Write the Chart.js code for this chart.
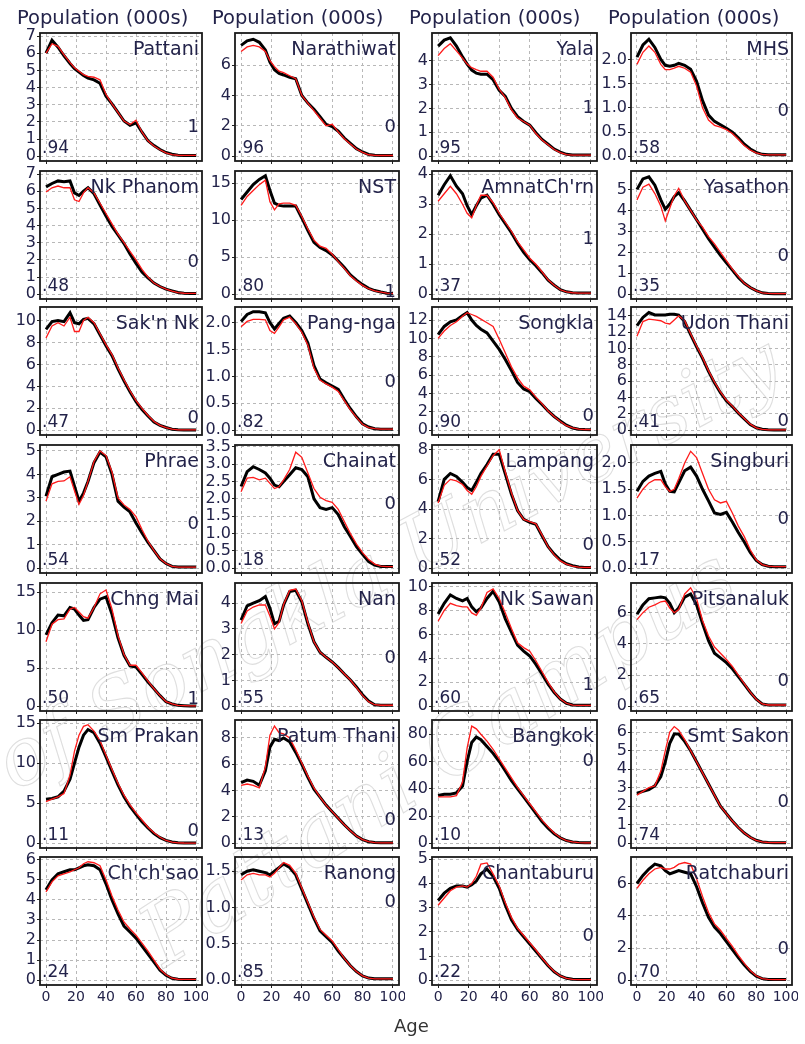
<!DOCTYPE html>
<html lang="en">
<head>
  <meta charset="UTF-8">
  <title>Population by age, 28 provinces</title>
  <script src="https://cdn.jsdelivr.net/npm/chart.js"></script>
  <style>
    body { margin: 0; background: #fff; }
    #page { position: relative; width: 805px; height: 1044px; overflow: hidden; font-family: "DejaVu Sans", sans-serif; }
    canvas { position: absolute; z-index: 1; }
    .lbl { position: absolute; z-index: 2; color: #23234a; white-space: nowrap; line-height: 1; }
    .wm { position: absolute; z-index: 0; font: italic 80px "DejaVu Serif", serif; color: rgba(255,255,255,0);
          -webkit-text-stroke: 1.1px rgba(160,160,160,0.35); transform-origin: left bottom; white-space: nowrap; }
  </style>
</head>
<body>
<div id="page">
  <div class="wm" style="left:-230px; top:850px; transform: rotate(-28deg);">Prince of Songkla University</div>
  <div class="wm" style="left:175px; top:885px; font-size:86px; transform: rotate(-33deg);">Pattani Campus</div>
</div>

<script>
  // ages shared by every panel
  const AGES = [0,4,8,12,16,19,22,25,28,32,36,40,44,48,52,56,60,64,68,72,76,80,84,88,92,96,100];
  const X_TICKS = [0, 20, 40, 60, 80, 100];

  const NAMES = ["Pattani","Narathiwat","Yala","MHS",
                 "Nk Phanom","NST","AmnatCh'rn","Yasathon",
                 "Sak'n Nk","Pang-nga","Songkla","Udon Thani",
                 "Phrae","Chainat","Lampang","Singburi",
                 "Chng Mai","Nan","Nk Sawan","Pitsanaluk",
                 "Sm Prakan","Patum Thani","Bangkok","Smt Sakon",
                 "Ch'ch'sao","Ranong","Chantaburu","Ratchaburi"];
  const CODES = [".94",".96",".95",".58", ".48",".80",".37",".35", ".47",".82",".90",".41",
                 ".54",".18",".52",".17", ".50",".55",".60",".65", ".11",".13",".10",".74",
                 ".24",".85",".22",".70"];
  const RIGHT_NUM = ["1","0","1","0", "0","1","1","0", "0","0","0","0", "0","0","0","0",
                     "1","0","1","0", "0","0","0","0", "","0","0","0"];
  const RIGHT_POS = [0.73,0.73,0.58,0.60, 0.70,0.94,0.52,0.66, 0.86,0.58,0.84,0.88,
                     0.61,0.45,0.77,0.57, 0.90,0.58,0.79,0.76, 0.86,0.77,0.31,0.63,
                     0.5,0.34,0.61,0.71];

  // top of data range per panel (axis runs -4% .. +4%)
  const Y_TOP = [6.9,7.8,4.95,2.45, 6.9,16.0,3.95,5.65, 10.8,2.2,12.9,14.5,
                 5.05,3.42,8.0,2.25, 15.6,4.6,9.9,7.6, 14.8,9.0,87,6.4,
                 5.9,1.63,4.9,7.35];
  const Y_TICKS = [
    [0,1,2,3,4,5,6,7],[0,2,4,6],[0,1,2,3,4],[0,0.5,1,1.5,2],
    [0,1,2,3,4,5,6,7],[0,5,10,15],[0,1,2,3,4],[0,1,2,3,4,5],
    [0,2,4,6,8,10],[0,0.5,1,1.5,2],[0,2,4,6,8,10,12],[0,2,4,6,8,10,12,14],
    [0,1,2,3,4,5],[0,0.5,1,1.5,2,2.5,3,3.5],[0,2,4,6,8],[0,0.5,1,1.5,2],
    [0,5,10,15],[0,1,2,3,4],[0,2,4,6,8,10],[0,2,4,6],
    [0,5,10,15],[0,2,4,6,8],[0,20,40,60,80],[0,1,2,3,4,5,6],
    [0,1,2,3,4,5,6],[0,0.5,1,1.5],[0,1,2,3,4,5],[0,2,4,6]
  ];

  // black = thick line, red = thin line (population, thousands)
  const PATTANI_B = [6.0,6.75,6.35,5.85,5.4,5.1,4.9,4.7,4.55,4.45,4.25,3.5,3.05,2.55,2.05,1.8,1.95,1.4,0.9,0.62,0.39,0.22,0.12,0.06,0.05,0.05,0.05];
  const PATTANI_R = [6.0,6.55,6.4,5.9,5.45,5.15,4.95,4.75,4.65,4.6,4.45,3.6,3.05,2.55,2.05,1.85,2.1,1.4,0.9,0.6,0.38,0.2,0.1,0.06,0.05,0.05,0.05];
  const NARATH_B = [7.3,7.6,7.7,7.5,7.0,6.2,5.7,5.45,5.35,5.2,5.1,4.0,3.5,3.1,2.6,2.1,1.95,1.65,1.2,0.85,0.5,0.28,0.12,0.06,0.05,0.05,0.05];
  const NARATH_R = [6.9,7.2,7.3,7.2,6.9,6.3,5.9,5.6,5.5,5.3,5.1,4.0,3.5,3.0,2.5,2.0,2.1,1.6,1.15,0.8,0.48,0.26,0.1,0.06,0.05,0.05,0.05];
  const YALA_B = [4.6,4.85,4.95,4.6,4.15,3.85,3.6,3.47,3.43,3.43,3.2,2.75,2.5,2.0,1.65,1.45,1.3,0.98,0.7,0.5,0.3,0.17,0.08,0.05,0.05,0.05,0.05];
  const YALA_R = [4.2,4.5,4.7,4.4,4.1,3.85,3.7,3.62,3.55,3.55,3.3,2.8,2.45,1.95,1.6,1.45,1.3,0.95,0.68,0.48,0.28,0.15,0.07,0.05,0.05,0.05,0.05];
  const MHS_B = [2.05,2.3,2.42,2.25,2.0,1.88,1.86,1.88,1.92,1.88,1.8,1.55,1.15,0.85,0.72,0.65,0.58,0.5,0.38,0.25,0.15,0.08,0.04,0.03,0.03,0.03,0.03];
  const MHS_R = [1.9,2.15,2.28,2.15,1.9,1.79,1.79,1.82,1.86,1.82,1.74,1.45,1.0,0.75,0.64,0.6,0.55,0.47,0.35,0.22,0.13,0.07,0.04,0.03,0.03,0.03,0.03];

  const NKPHANOM_B = [6.25,6.45,6.6,6.55,6.6,5.9,5.75,6.0,6.2,5.85,5.2,4.55,3.95,3.45,2.95,2.35,1.8,1.3,0.95,0.65,0.45,0.3,0.2,0.1,0.06,0.05,0.05];
  const NKPHANOM_R = [5.95,6.2,6.3,6.2,6.2,5.5,5.4,5.9,6.2,5.9,5.3,4.7,4.1,3.5,3.0,2.5,2.0,1.45,1.0,0.65,0.45,0.3,0.18,0.1,0.06,0.05,0.05];
  const NST_B = [12.8,13.8,14.8,15.5,16.0,14.0,12.3,12.0,11.9,11.9,11.9,10.3,8.6,7.0,6.3,5.9,5.3,4.5,3.6,2.6,1.9,1.3,0.8,0.5,0.3,0.15,0.1];
  const NST_R = [12.0,13.2,14.0,14.8,15.4,12.5,11.4,12.2,12.3,12.3,12.0,10.5,8.8,7.3,6.5,6.2,5.4,4.4,3.5,2.5,1.8,1.2,0.75,0.45,0.3,0.15,0.1];
  const AMNAT_B = [3.3,3.65,3.95,3.6,3.35,2.95,2.65,2.95,3.2,3.3,3.0,2.65,2.35,2.05,1.7,1.4,1.15,0.95,0.72,0.47,0.3,0.15,0.08,0.05,0.04,0.04,0.04];
  const AMNAT_R = [3.1,3.35,3.6,3.35,3.0,2.7,2.55,2.95,3.3,3.3,3.05,2.7,2.4,2.1,1.75,1.48,1.2,1.0,0.75,0.48,0.3,0.15,0.08,0.05,0.04,0.04,0.04];
  const YASATHON_B = [5.0,5.5,5.6,5.2,4.5,4.05,4.3,4.65,4.84,4.45,4.0,3.55,3.1,2.65,2.25,1.85,1.5,1.15,0.8,0.52,0.32,0.17,0.07,0.04,0.03,0.03,0.03];
  const YASATHON_R = [4.5,5.1,5.25,4.8,4.2,3.5,4.1,4.7,5.05,4.45,4.0,3.55,3.2,2.75,2.4,2.0,1.6,1.2,0.85,0.52,0.32,0.17,0.07,0.04,0.03,0.03,0.03];

  const SAKON_NK_B = [9.2,9.9,10.0,9.9,10.7,9.8,9.7,10.1,10.2,9.7,8.7,7.7,6.8,5.6,4.5,3.5,2.6,1.9,1.3,0.75,0.45,0.25,0.1,0.04,0.03,0.03,0.03];
  const SAKON_NK_R = [8.4,9.5,9.8,9.5,10.3,9.0,9.0,10.0,10.3,9.8,8.8,7.8,6.9,5.7,4.6,3.6,2.7,2.0,1.35,0.8,0.45,0.25,0.1,0.04,0.03,0.03,0.03];
  const PANGNGA_B = [2.02,2.15,2.2,2.2,2.18,2.0,1.88,1.98,2.08,2.12,2.0,1.85,1.62,1.2,0.95,0.88,0.82,0.76,0.57,0.4,0.25,0.12,0.06,0.03,0.02,0.02,0.02];
  const PANGNGA_R = [1.92,2.02,2.06,2.06,2.05,1.85,1.8,1.92,2.05,2.1,1.98,1.82,1.58,1.15,0.93,0.86,0.8,0.72,0.55,0.38,0.24,0.11,0.05,0.03,0.02,0.02,0.02];
  const SONGKLA_B = [10.4,11.3,11.8,12.0,12.5,12.8,12.0,11.4,11.0,10.6,9.7,8.8,7.7,6.5,5.2,4.5,4.2,3.45,2.8,2.1,1.5,1.0,0.55,0.25,0.12,0.08,0.06];
  const SONGKLA_R = [10.0,10.8,11.4,11.8,12.4,12.8,12.6,12.4,12.1,11.7,11.3,9.9,8.4,6.9,5.7,4.8,4.4,3.6,2.9,2.1,1.5,0.95,0.5,0.25,0.12,0.08,0.06];
  const UDON_B = [12.8,13.8,14.4,14.1,14.1,14.1,14.2,14.2,14.1,13.3,11.7,10.2,8.8,7.2,5.8,4.6,3.6,2.9,2.1,1.4,0.7,0.3,0.12,0.05,0.04,0.04,0.04];
  const UDON_R = [11.5,13.3,13.6,13.5,13.4,13.1,13.0,13.5,14.0,13.4,11.8,10.3,8.9,7.3,5.9,4.7,3.7,2.95,2.15,1.45,0.75,0.3,0.12,0.05,0.04,0.04,0.04];

  const PHRAE_B = [3.07,3.9,4.0,4.1,4.14,3.5,2.86,3.2,3.7,4.5,4.95,4.75,4.0,2.86,2.6,2.4,1.93,1.5,1.1,0.75,0.4,0.2,0.08,0.05,0.05,0.05,0.05];
  const PHRAE_R = [2.86,3.6,3.7,3.72,3.9,3.3,2.72,3.1,3.7,4.55,5.0,4.8,4.1,3.0,2.7,2.5,2.2,1.65,1.15,0.75,0.4,0.2,0.08,0.05,0.05,0.05,0.05];
  const CHAINAT_B = [2.36,2.79,2.93,2.85,2.75,2.6,2.4,2.35,2.5,2.7,2.9,2.85,2.64,2.0,1.75,1.7,1.75,1.55,1.2,0.92,0.62,0.4,0.19,0.09,0.05,0.05,0.05];
  const CHAINAT_R = [2.21,2.6,2.62,2.55,2.6,2.45,2.3,2.35,2.55,2.85,3.35,3.2,2.75,2.3,2.05,1.95,1.9,1.7,1.35,1.0,0.7,0.45,0.25,0.12,0.06,0.05,0.05];
  const LAMPANG_B = [4.5,6.0,6.4,6.2,5.8,5.45,5.25,5.8,6.4,7.0,7.7,7.7,6.35,5.0,3.9,3.3,3.1,2.97,2.2,1.45,0.95,0.55,0.3,0.18,0.08,0.05,0.05];
  const LAMPANG_R = [4.4,5.6,6.0,5.9,5.65,5.25,5.0,5.5,6.2,6.9,7.6,8.0,6.5,5.1,3.9,3.3,3.15,3.0,2.25,1.45,0.9,0.5,0.28,0.15,0.08,0.05,0.05];
  const SINGBURI_B = [1.46,1.65,1.75,1.8,1.84,1.6,1.46,1.45,1.62,1.85,1.92,1.75,1.5,1.28,1.05,1.02,1.06,0.88,0.68,0.5,0.3,0.15,0.07,0.04,0.03,0.03,0.03];
  const SINGBURI_R = [1.33,1.5,1.62,1.68,1.68,1.55,1.46,1.5,1.7,2.0,2.22,2.1,1.8,1.5,1.3,1.24,1.27,1.05,0.8,0.6,0.35,0.16,0.07,0.04,0.03,0.03,0.03];

  const CHNGMAI_B = [9.4,11.0,12.0,11.9,13.0,12.8,12.0,11.3,11.4,13.0,14.1,14.4,12.1,9.0,6.7,5.3,5.15,4.2,3.2,2.3,1.4,0.6,0.3,0.12,0.08,0.05,0.05];
  const CHNGMAI_R = [8.5,10.8,11.4,11.5,12.8,13.0,12.4,11.8,11.6,13.0,14.8,15.3,12.8,9.3,6.8,5.4,5.4,4.4,3.3,2.3,1.4,0.6,0.3,0.12,0.08,0.05,0.05];
  const NAN_B = [3.34,3.9,4.0,4.1,4.26,3.8,3.2,3.3,3.93,4.45,4.5,4.05,3.2,2.5,2.1,1.9,1.72,1.5,1.25,1.02,0.75,0.45,0.2,0.06,0.04,0.04,0.04];
  const NAN_R = [3.21,3.7,3.85,3.93,3.93,3.5,3.0,3.25,3.95,4.5,4.55,4.1,3.25,2.5,2.1,1.9,1.72,1.5,1.25,1.02,0.72,0.42,0.18,0.06,0.04,0.04,0.04];
  const NKSAWAN_B = [7.7,8.6,9.3,9.0,8.8,9.0,8.3,7.9,8.2,9.0,9.6,8.7,7.3,6.2,5.1,4.6,4.2,3.5,2.7,1.85,1.15,0.6,0.25,0.1,0.08,0.08,0.08];
  const NKSAWAN_R = [7.1,8.0,8.6,8.4,8.3,8.3,7.8,7.6,8.2,9.5,9.8,9.0,7.8,6.5,5.3,4.9,4.6,3.8,2.9,2.0,1.2,0.6,0.25,0.1,0.08,0.08,0.08];
  const PITSANULOK_B = [5.9,6.5,6.9,6.95,7.0,6.95,6.6,6.0,6.3,7.0,7.2,6.5,5.3,4.2,3.4,3.1,2.8,2.4,1.9,1.4,0.9,0.45,0.15,0.08,0.08,0.08,0.08];
  const PITSANULOK_R = [5.56,6.0,6.35,6.5,6.7,6.75,6.3,6.0,6.2,7.2,7.6,6.9,5.5,4.5,3.8,3.4,3.0,2.55,2.0,1.45,0.9,0.45,0.15,0.08,0.08,0.08,0.08];

  const SMPRAKAN_B = [5.5,5.6,5.8,6.5,8.0,10.0,12.0,13.5,14.2,13.8,12.5,10.8,9.0,7.3,5.8,4.6,3.6,2.7,1.9,1.2,0.7,0.35,0.15,0.06,0.03,0.02,0.02];
  const SMPRAKAN_R = [5.2,5.5,5.8,6.2,8.5,11.5,13.5,14.6,14.8,14.0,12.8,11.0,9.2,7.5,6.0,4.8,3.8,2.9,2.0,1.3,0.75,0.35,0.15,0.06,0.03,0.02,0.02];
  const PATUM_B = [4.6,4.8,4.7,4.4,5.5,7.3,7.9,7.8,8.0,7.7,6.9,6.0,5.0,4.1,3.5,2.9,2.4,1.9,1.4,0.95,0.55,0.28,0.12,0.05,0.03,0.03,0.03];
  const PATUM_R = [4.4,4.5,4.4,4.2,5.8,8.2,8.9,8.4,8.3,8.0,7.1,6.1,5.1,4.2,3.5,2.9,2.4,1.9,1.4,0.95,0.55,0.28,0.12,0.05,0.03,0.03,0.03];
  const BANGKOK_B = [35,36,36,37,42,60,74,78,76,71,66,60,53,46,40,34,28,22,16,11,7,4,2,1,0.5,0.3,0.3];
  const BANGKOK_R = [34,34,34,35,45,70,86,84,80,75,69,62,55,48,41,35,29,23,17,12,7.5,4,2,1,0.5,0.3,0.3];
  const SMTSAKON_B = [2.7,2.8,2.9,3.1,3.6,4.4,5.4,5.9,5.9,5.5,5.0,4.4,3.8,3.2,2.6,2.0,1.6,1.2,0.85,0.55,0.32,0.16,0.07,0.04,0.03,0.03,0.03];
  const SMTSAKON_R = [2.6,2.8,3.0,3.1,3.9,5.0,6.0,6.3,6.1,5.6,5.0,4.4,3.8,3.2,2.6,2.0,1.6,1.2,0.85,0.55,0.32,0.16,0.07,0.04,0.03,0.03,0.03];

  const CHCHSAO_B = [4.5,5.0,5.3,5.4,5.5,5.5,5.6,5.7,5.75,5.7,5.5,4.8,4.0,3.3,2.7,2.4,2.1,1.7,1.3,0.9,0.5,0.25,0.1,0.05,0.04,0.04,0.04];
  const CHCHSAO_R = [4.4,4.9,5.2,5.3,5.4,5.5,5.6,5.8,5.9,5.85,5.7,5.0,4.2,3.5,2.9,2.55,2.25,1.85,1.45,1.0,0.55,0.27,0.1,0.05,0.04,0.04,0.04];
  const RANONG_B = [1.45,1.5,1.52,1.5,1.48,1.45,1.5,1.55,1.6,1.55,1.45,1.25,1.05,0.85,0.68,0.6,0.52,0.4,0.3,0.2,0.12,0.06,0.03,0.02,0.02,0.02,0.02];
  const RANONG_R = [1.38,1.45,1.47,1.45,1.45,1.42,1.47,1.55,1.62,1.58,1.47,1.27,1.07,0.87,0.7,0.62,0.54,0.42,0.3,0.2,0.12,0.06,0.03,0.02,0.02,0.02,0.02];
  const CHANTA_B = [3.3,3.6,3.8,3.9,3.9,3.85,3.95,4.1,4.4,4.6,4.3,3.8,3.1,2.5,2.1,1.8,1.5,1.2,0.9,0.6,0.35,0.18,0.08,0.04,0.03,0.03,0.03];
  const CHANTA_R = [3.1,3.4,3.7,3.85,3.9,3.85,4.0,4.3,4.8,4.85,4.4,3.9,3.2,2.6,2.15,1.85,1.55,1.25,0.92,0.62,0.36,0.18,0.08,0.04,0.03,0.03,0.03];
  const RATCHA_B = [6.0,6.5,6.9,7.2,7.1,6.8,6.6,6.7,6.8,6.7,6.6,5.8,4.8,3.9,3.3,2.9,2.4,1.9,1.4,0.95,0.55,0.25,0.1,0.05,0.04,0.04,0.04];
  const RATCHA_R = [5.7,6.2,6.6,6.9,7.0,6.9,6.9,7.0,7.2,7.3,7.2,6.3,5.2,4.2,3.5,3.1,2.6,2.1,1.55,1.05,0.6,0.28,0.1,0.05,0.04,0.04,0.04];

  const BLACK = [PATTANI_B, NARATH_B, YALA_B, MHS_B, NKPHANOM_B, NST_B, AMNAT_B, YASATHON_B,
                 SAKON_NK_B, PANGNGA_B, SONGKLA_B, UDON_B, PHRAE_B, CHAINAT_B, LAMPANG_B, SINGBURI_B,
                 CHNGMAI_B, NAN_B, NKSAWAN_B, PITSANULOK_B, SMPRAKAN_B, PATUM_B, BANGKOK_B, SMTSAKON_B,
                 CHCHSAO_B, RANONG_B, CHANTA_B, RATCHA_B];
  const RED = [PATTANI_R, NARATH_R, YALA_R, MHS_R, NKPHANOM_R, NST_R, AMNAT_R, YASATHON_R,
               SAKON_NK_R, PANGNGA_R, SONGKLA_R, UDON_R, PHRAE_R, CHAINAT_R, LAMPANG_R, SINGBURI_R,
               CHNGMAI_R, NAN_R, NKSAWAN_R, PITSANULOK_R, SMPRAKAN_R, PATUM_R, BANGKOK_R, SMTSAKON_R,
               CHCHSAO_R, RANONG_R, CHANTA_R, RATCHA_R];

  // panel layout (plot area in page pixels)
  const PLOT_LEFT = [40, 235, 432, 631];
  const PLOT_W = [162, 164, 165, 161];
  const PLOT_TOP = [33, 171, 307, 445, 583, 720, 857];
  const PLOT_H = 128;
  const AXIS_W = 40, PAD_T = 10, PAD_R = 6, PAD_B = 10;
  const TEXT = "#23234a";

  const page = document.getElementById("page");

  function addLabel(text, css) {
    const d = document.createElement("div");
    d.className = "lbl";
    d.textContent = text;
    Object.assign(d.style, css);
    page.appendChild(d);
    return d;
  }

  const boxPlugin = {
    id: "box",
    afterDraw(chart) {
      const a = chart.chartArea, ctx = chart.ctx;
      ctx.save();
      ctx.strokeStyle = "#1a1a1a";
      ctx.lineWidth = 1.8;
      ctx.strokeRect(a.left, a.top, a.right - a.left, a.bottom - a.top);
      ctx.restore();
    }
  };

  const pts = arr => arr.map((v, i) => ({ x: AGES[i], y: v }));
  const fmt = step => v => step < 1 ? v.toFixed(1) : String(v);

  // column titles and x label
  PLOT_LEFT.forEach(l => addLabel("Population (000s)", { left: (l - 23) + "px", top: "8px", fontSize: "19.5px" }));
  addLabel("Age", { left: "394px", top: "1017px", fontSize: "18px", color: "#333" });

  for (let p = 0; p < 28; p++) {
    const col = p % 4, row = Math.floor(p / 4);
    const bottomRow = row === 6;
    const pl = PLOT_LEFT[col], pw = PLOT_W[col], pt = PLOT_TOP[row];
    const xh = bottomRow ? 26 : 4;

    const cv = document.createElement("canvas");
    cv.width = AXIS_W + pw + PAD_R;
    cv.height = PAD_T + PLOT_H + xh + PAD_B;
    cv.style.left = (pl - AXIS_W) + "px";
    cv.style.top = (pt - PAD_T) + "px";
    page.appendChild(cv);

    const ticks = Y_TICKS[p];
    const step = ticks[1] - ticks[0];
    const M = Y_TOP[p];

    new Chart(cv, {
      type: "line",
      data: {
        datasets: [
          { data: pts(RED[p]), borderColor: "#ff1a1a", borderWidth: 1.3, pointRadius: 0, tension: 0, order: 0 },
          { data: pts(BLACK[p]), borderColor: "#000", borderWidth: 3, pointRadius: 0, tension: 0, order: 1 }
        ]
      },
      options: {
        responsive: false,
        animation: false,
        events: [],
        layout: { padding: { left: 0, top: PAD_T, right: PAD_R, bottom: PAD_B } },
        plugins: { legend: { display: false }, tooltip: { enabled: false } },
        scales: {
          x: {
            type: "linear", min: -4, max: 104,
            afterBuildTicks: s => { s.ticks = X_TICKS.map(v => ({ value: v })); },
            afterFit: s => { s.height = xh; s.paddingLeft = 0; s.paddingRight = 0; },
            ticks: { display: bottomRow, color: TEXT, font: { family: "DejaVu Sans", size: 14 },
                     maxRotation: 0, minRotation: 0, autoSkip: false, padding: 1 },
            grid: { color: "#b8b8b8", tickColor: "#222", tickLength: 3, lineWidth: 1 },
            border: { display: false, dash: [3, 3] }
          },
          y: {
            type: "linear", min: -0.04 * M, max: 1.04 * M,
            afterBuildTicks: s => { s.ticks = ticks.map(v => ({ value: v })); },
            afterFit: s => { s.width = AXIS_W; s.paddingTop = 0; s.paddingBottom = 0; },
            ticks: { color: TEXT, font: { family: "DejaVu Sans", size: 16 }, padding: 1,
                     autoSkip: false, callback: fmt(step) },
            grid: { color: "#b8b8b8", tickColor: "#222", tickLength: 3, lineWidth: 1 },
            border: { display: false, dash: [3, 3] }
          }
        }
      },
      plugins: [boxPlugin]
    });

    // in-panel texts
    addLabel(NAMES[p], { left: pl + "px", width: (pw - 3) + "px", textAlign: "right", top: (pt + 6) + "px", fontSize: "19px" });
    addLabel(CODES[p], { left: (pl + 2) + "px", top: (pt + PLOT_H - 22) + "px", fontSize: "17px" });
    if (RIGHT_NUM[p]) {
      addLabel(RIGHT_NUM[p], { left: pl + "px", width: (pw - 3) + "px", textAlign: "right",
                               top: (pt + RIGHT_POS[p] * PLOT_H - 9) + "px", fontSize: "18px" });
    }
  }
</script>
</body>
</html>
